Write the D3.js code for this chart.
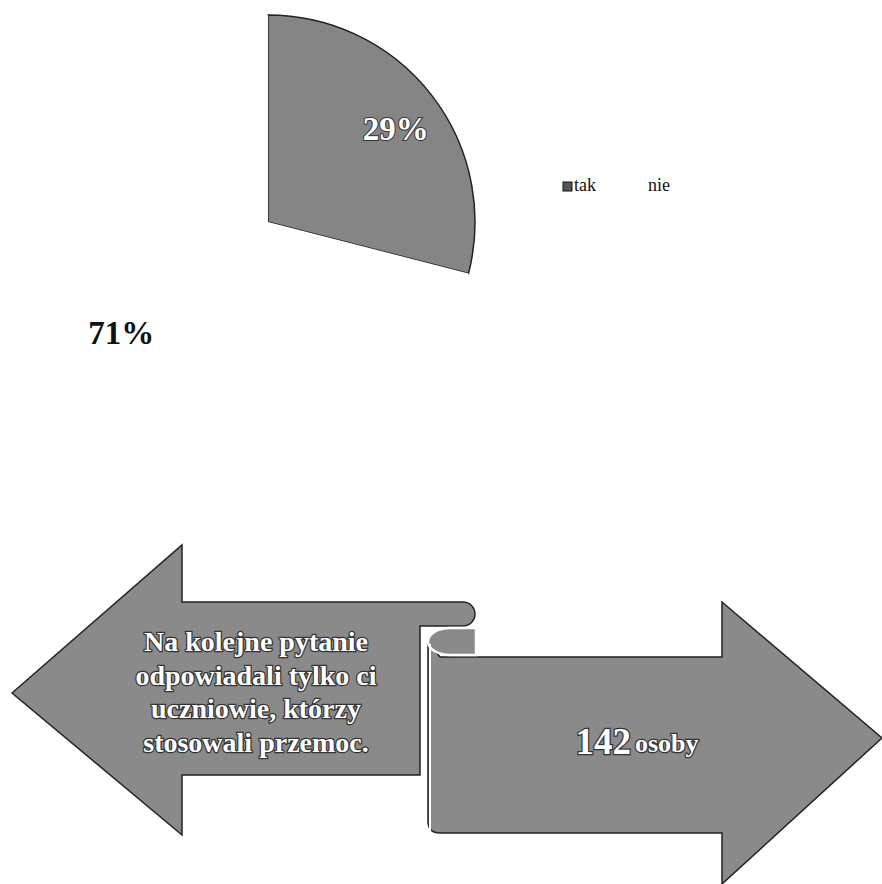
<!DOCTYPE html>
<html>
<head>
<meta charset="utf-8">
<script src="https://cdn.jsdelivr.net/npm/d3@7"></script>
<style>
  html, body { margin: 0; padding: 0; background: #fff; }
  svg { display: block; }
</style>
</head>
<body>
<svg id="chart" width="882" height="884"></svg>
<script>
const categories = ["tak", "nie"];
const values = [29, 71];
const labels = ["29%", "71%"];
const noteLines = ["Na kolejne pytanie", "odpowiadali tylko ci", "uczniowie, którzy", "stosowali przemoc."];
const countValue = "142";
const countUnit = "osoby";

const svg = d3.select("#chart");
const W = 882, H = 884;
svg.append("rect").attr("width", W).attr("height", H).attr("fill", "#fff");

const color = d3.scaleOrdinal().domain(categories).range(["#858585", "#ffffff"]);

// ---- Pie ----
const cx = 268, cy = 222, R = 207;
const pie = d3.pie().sort(null).value(d => d)(values);
const arc = d3.arc().innerRadius(0).outerRadius(R);
const g = svg.append("g").attr("transform", `translate(${cx},${cy})`);
g.selectAll("path.slice").data(pie).join("path")
  .attr("class", "slice")
  .attr("d", arc)
  .attr("fill", (d, i) => color(categories[i]))
  .attr("stroke", (d, i) => i === 0 ? "#222" : "none")
  .attr("stroke-width", 1.5);

const labelArc = d3.arc().innerRadius(R * 0.75).outerRadius(R * 0.75);
const labelOffsets = [[5, 6], [-24, 19]];
g.selectAll("text.lbl").data(pie).join("text")
  .attr("class", "lbl")
  .attr("x", (d, i) => labelArc.centroid(d)[0] + labelOffsets[i][0])
  .attr("y", (d, i) => labelArc.centroid(d)[1] + labelOffsets[i][1])
  .attr("text-anchor", "middle")
  .attr("dominant-baseline", "middle")
  .attr("font-family", "Liberation Serif, serif")
  .attr("font-weight", "bold")
  .attr("font-size", 33)
  .attr("fill", (d, i) => i === 0 ? "#fff" : "#111")
  .attr("stroke", (d, i) => i === 0 ? "#333" : "none")
  .attr("stroke-width", 2)
  .attr("paint-order", "stroke")
  .text((d, i) => labels[i]);

// ---- Legend ----
const legend = svg.append("g").attr("transform", "translate(563,187)");
const lx = d3.scalePoint().domain(categories).range([0, 74]);
const li = legend.selectAll("g").data(categories).join("g")
  .attr("transform", d => `translate(${lx(d)},0)`);
li.append("rect").attr("x", 0).attr("y", -5).attr("width", 9).attr("height", 9)
  .attr("fill", d => d === "tak" ? "#555" : "#fff").attr("stroke", d => d === "tak" ? "#111" : "none");
li.append("text").attr("x", 11).attr("y", 0).attr("dominant-baseline", "middle")
  .attr("font-family", "Liberation Serif, serif").attr("font-size", 18).attr("fill", "#111")
  .text(d => d);

// ---- Arrows ----
const arrowFill = "#8a8a8a";
const leftArrow = d3.path();
leftArrow.moveTo(12, 693);
leftArrow.lineTo(182, 545);
leftArrow.lineTo(182, 602);
leftArrow.lineTo(463, 602);
leftArrow.arc(463, 614, 12, -Math.PI / 2, Math.PI / 2);
leftArrow.lineTo(420, 626);
leftArrow.lineTo(420, 775);
leftArrow.lineTo(182, 775);
leftArrow.lineTo(182, 835);
leftArrow.closePath();
svg.append("path").attr("d", leftArrow.toString())
  .attr("fill", arrowFill).attr("stroke", "#222").attr("stroke-width", 1.5);

const rightArrow = d3.path();
rightArrow.moveTo(428, 642);
rightArrow.lineTo(428, 821);
rightArrow.quadraticCurveTo(428, 833, 440, 833);
rightArrow.lineTo(722, 833);
rightArrow.lineTo(722, 884);
rightArrow.lineTo(882, 738);
rightArrow.lineTo(722, 602);
rightArrow.lineTo(722, 657);
rightArrow.lineTo(440, 657);
rightArrow.closePath();
svg.append("path").attr("d", rightArrow.toString())
  .attr("fill", arrowFill).attr("stroke", "#222").attr("stroke-width", 1.5);

// scroll roll
svg.append("path")
  .attr("d", "M476,628 L476,655 L450,655 A22,13.5 0 0 1 450,628 Z")
  .attr("fill", arrowFill).attr("stroke", "#fff").attr("stroke-width", 2.5);
svg.append("path")
  .attr("d", "M430,644 L430,833")
  .attr("fill", "none").attr("stroke", "#fff").attr("stroke-width", 2);

// ---- Arrow texts ----
const ly = d3.scaleBand().domain(d3.range(noteLines.length)).range([628, 762]);
svg.append("g").selectAll("text").data(noteLines).join("text")
  .attr("x", 256)
  .attr("y", (d, i) => ly(i) + ly.bandwidth() / 2)
  .attr("text-anchor", "middle")
  .attr("dominant-baseline", "middle")
  .attr("font-family", "Liberation Serif, serif")
  .attr("font-weight", "bold")
  .attr("font-size", 28)
  .attr("fill", "#fff")
  .attr("stroke", "#333")
  .attr("stroke-width", 2.5)
  .attr("paint-order", "stroke")
  .text(d => d);

const ct = svg.append("text")
  .attr("x", 637).attr("y", 746)
  .attr("text-anchor", "middle")
  .attr("dominant-baseline", "middle")
  .attr("font-family", "Liberation Serif, serif")
  .attr("font-weight", "bold")
  .attr("fill", "#fff")
  .attr("stroke", "#333")
  .attr("stroke-width", 2.5)
  .attr("paint-order", "stroke");
ct.append("tspan").attr("font-size", 37).text(countValue);
ct.append("tspan").attr("font-size", 26).attr("dx", 4).text(countUnit);
</script>
</body>
</html>
